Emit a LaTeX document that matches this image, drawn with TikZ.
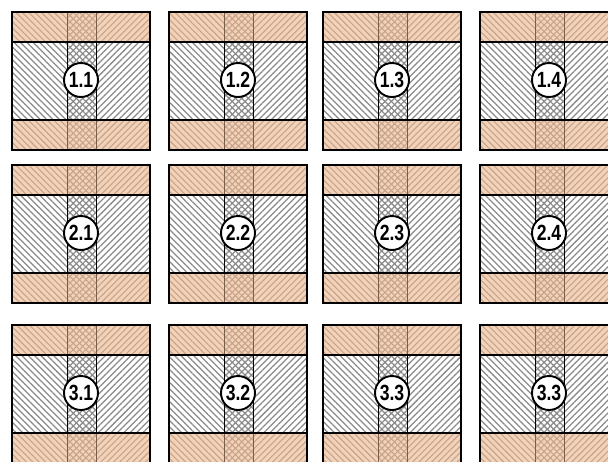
\documentclass[tikz,border=0pt]{standalone}
\usepackage{fontspec}
\setsansfont{Liberation Sans}
\usepackage{xcolor}
\usepackage{tikz}
\usetikzlibrary{patterns.meta}

\definecolor{bandfill}{HTML}{F3D2BA}
\definecolor{bandhatch}{HTML}{C6A38A}
\definecolor{corehatch}{HTML}{8A8A8A}
\definecolor{bandline}{HTML}{7A5E4C}

\begin{document}
\begin{tikzpicture}[x=1pt, y=1pt,
  bandNW/.style={pattern={Lines[angle=-45, distance=4.5pt, line width=1.1pt]},
    pattern color=bandhatch},
  bandNE/.style={pattern={Lines[angle=45, distance=4.5pt, line width=1.1pt]},
    pattern color=bandhatch},
  coreNW/.style={pattern={Lines[angle=-45, distance=4.5pt, line width=1.25pt]},
    pattern color=corehatch},
  coreNE/.style={pattern={Lines[angle=45, distance=4.5pt, line width=1.25pt]},
    pattern color=corehatch},
  frame/.style={draw=black, line width=2.8pt},
  divider/.style={draw=black, line width=1.4pt},
  stripcore/.style={draw=black, line width=1pt},
  stripband/.style={draw=bandline, line width=0.9pt},
  tag/.style={circle, draw=black, fill=white, line width=1.9pt,
    minimum size=34pt, inner sep=0pt,
    font=\sffamily\bfseries\fontsize{22}{22}\selectfont},
]

\clip (0,0) rectangle (608,-461);
\fill[white] (0,0) rectangle (608,-461);

%% ---- Tiles (3 rows x 4 columns) ----
\foreach \nm/\lx/\ty/\lab in {
    a1/12/12/1.1,  a2/169/12/1.2,  a3/323/12/1.3,  a4/480/12/1.4,
    b1/12/165/2.1, b2/169/165/2.2, b3/323/165/2.3, b4/480/165/2.4,
    c1/12/325/3.1, c2/169/325/3.2, c3/323/325/3.3, c4/480/325/3.3}{
  \begin{scope}[shift={(\lx,-\ty)}]
    % bands and core
    \fill[bandfill] (0,0) rectangle (138,-30);
    \fill[bandfill] (0,-108) rectangle (138,-138);
    \fill[bandNW] (0,0) rectangle (84,-30);
    \fill[bandNE] (55,0) rectangle (138,-30);
    \fill[bandNW] (0,-108) rectangle (84,-138);
    \fill[bandNE] (55,-108) rectangle (138,-138);
    \fill[coreNW] (0,-30) rectangle (84,-108);
    \fill[coreNE] (55,-30) rectangle (138,-108);
    % strip lines
    \draw[stripband] (55,0) -- (55,-30) (84,0) -- (84,-30);
    \draw[stripband] (55,-108) -- (55,-138) (84,-108) -- (84,-138);
    \draw[stripcore] (55,-30) -- (55,-108) (84,-30) -- (84,-108);
    % dividers and frame
    \draw[divider] (0,-30) -- (138,-30) (0,-108) -- (138,-108);
    \draw[frame] (0,0) rectangle (138,-138);
    \node[tag] (\nm) at (69,-68) {\scalebox{0.8}[1]{\lab}};
  \end{scope}
}

\end{tikzpicture}
\end{document}
